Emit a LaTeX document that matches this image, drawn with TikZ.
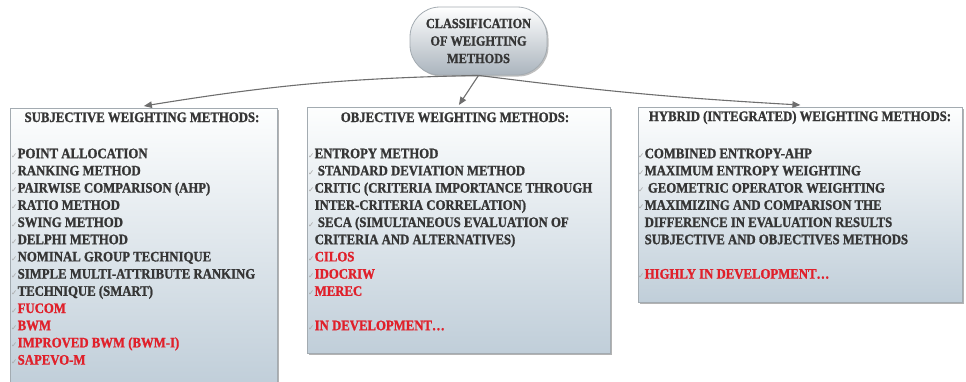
\documentclass[tikz,border=0pt]{standalone}
\usepackage{fontspec}
\usetikzlibrary{shadows,arrows.meta}
\newfontfamily\dgfont{Liberation Serif Bold}[FakeStretch=0.88,FakeBold=1.2]
\newfontfamily\symfont{DejaVu Sans}
\definecolor{txt}{HTML}{353535}
\definecolor{redtxt}{HTML}{E0202A}
\definecolor{boxtop}{HTML}{FDFEFE}
\definecolor{boxbot}{HTML}{C0CED9}
\definecolor{edgecol}{HTML}{A3ABB1}
\definecolor{conncol}{HTML}{6E6E6E}
\definecolor{rootbot}{HTML}{AAB4BD}
\newcommand\ck{\makebox[6.5pt][l]{\symfont\fontsize{7.5}{7.5}\selectfont\color{black!35}✓}}
\newcommand\ckin{\hspace*{6.5pt}}
\newcommand\rd[1]{\textcolor{redtxt}{#1}}
\begin{document}
\begin{tikzpicture}[x=1pt,y=1pt,
  box/.style={draw=edgecol, line width=0.8pt, top color=boxtop, bottom color=boxbot,
    anchor=north west, inner sep=0pt,
    drop shadow={shadow xshift=1.8pt,shadow yshift=-1.8pt,fill=black!50,opacity=0.6}},
  ttl/.style={anchor=base, inner sep=0pt, text=txt, font=\dgfont\fontsize{14.5}{17.2}\selectfont},
  items/.style={anchor=north west, inner sep=0pt, align=left, text=txt, font=\dgfont\fontsize{14.5}{17.2}\selectfont},
  rootbox/.style={draw=edgecol, line width=0.8pt, top color=white, bottom color=rootbot,
    rounded corners=30pt, minimum width=137pt, minimum height=68pt, inner sep=0pt,
    align=center, text=txt, font=\dgfont\fontsize{14}{17.5}\selectfont,
    drop shadow={shadow xshift=1.5pt,shadow yshift=-1.5pt,fill=black!50,opacity=0.5}},
  conn/.style={draw=conncol, line width=1.1pt, -{Triangle[length=8pt,width=6.5pt]}}
]
\useasboundingbox (0,0) rectangle (966,-381);
\clip (0,0) rectangle (966,-381);
% boxes
\node[box, minimum width=267pt, minimum height=278pt] (lbox) at (10,-108) {};
\node[box, minimum width=303pt, minimum height=246pt] (cbox) at (307,-107) {};
\node[box, minimum width=324pt, minimum height=195pt] (rbox) at (638,-107) {};
% root
\node[rootbox] (root) at (478.5,-41) {CLASSIFICATION\\OF WEIGHTING\\METHODS};
% connectors
\draw[conn] (root.south) to[bend right=4] ([yshift=2pt]lbox.north);
\draw[conn] (root.south) -- ([yshift=2pt]cbox.north);
\draw[conn] (root.south) to[bend right=2] ([yshift=2pt]rbox.north);
% titles
\node[ttl] (lt) at (142,-122) {SUBJECTIVE WEIGHTING METHODS:};
\node[ttl] (ct) at (455,-122) {OBJECTIVE WEIGHTING METHODS:};
\node[ttl] (rt) at (800,-121) {HYBRID (INTEGRATED) WEIGHTING METHODS:};
% items
\node[items] (li) at (11,-146) {\rule{0pt}{12pt}\ck POINT ALLOCATION\\
\ck RANKING METHOD\\
\ck PAIRWISE COMPARISON (AHP)\\
\ck RATIO METHOD\\
\ck SWING METHOD\\
\ck DELPHI METHOD\\
\ck NOMINAL GROUP TECHNIQUE\\
\ck SIMPLE MULTI-ATTRIBUTE RANKING\\
\ck TECHNIQUE (SMART)\\
\ck\rd{FUCOM}\\
\ck\rd{BWM}\\
\ck\rd{IMPROVED BWM (BWM-I)}\\
\ck\rd{SAPEVO-M}};
\node[items] (ci) at (308,-146) {\rule{0pt}{12pt}\ck ENTROPY METHOD\\
\ck\ STANDARD DEVIATION METHOD\\
\ck CRITIC (CRITERIA IMPORTANCE THROUGH\\
\ckin INTER-CRITERIA CORRELATION)\\
\ck\ SECA (SIMULTANEOUS EVALUATION OF\\
\ckin CRITERIA AND ALTERNATIVES)\\
\ck\rd{CILOS}\\
\ck\rd{IDOCRIW}\\
\ck\rd{MEREC}\\[17.2pt]
\ck\rd{IN DEVELOPMENT…}};
\node[items] (ri) at (638,-146) {\rule{0pt}{12pt}\ck COMBINED ENTROPY-AHP\\
\ck MAXIMUM ENTROPY WEIGHTING\\
\ck\ GEOMETRIC OPERATOR WEIGHTING\\
\ck MAXIMIZING AND COMPARISON THE\\
\ckin DIFFERENCE IN EVALUATION RESULTS\\
\ckin SUBJECTIVE AND OBJECTIVES METHODS\\[17.2pt]
\ck\rd{HIGHLY IN DEVELOPMENT…}};
\end{tikzpicture}
\end{document}
